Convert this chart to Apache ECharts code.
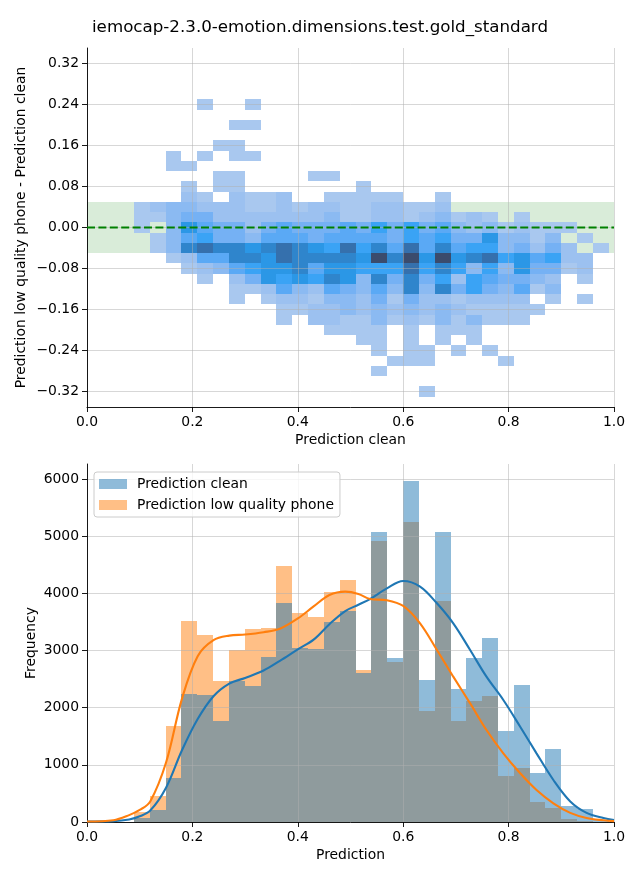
<!DOCTYPE html>
<html><head><meta charset="utf-8">
<script src="https://cdn.jsdelivr.net/npm/echarts@6/dist/echarts.min.js"></script>
<style>html,body{margin:0;padding:0;background:#fff}#c{width:640px;height:880px}</style>
</head><body><div id="c"></div>
<script>
// ---------- data ----------
const titleText = 'iemocap-2.3.0-emotion.dimensions.test.gold_standard';
const xBinStart = 0.0892;
const xBinWidth = 0.03003;
const yBinHeight = 0.02;
const bandRange = [-0.05, 0.05];
const zeroLineY = [0, 0];
const heatRowCenters = [0.24,0.22,0.20,0.18,0.16,0.14,0.12,0.10,0.08,0.06,0.04,0.02,0.00,-0.02,-0.04,-0.06,-0.08,-0.10,-0.12,-0.14,-0.16,-0.18,-0.20,-0.22,-0.24,-0.26,-0.28,-0.30,-0.32];
// count level per x bin (30 bins), 0 = empty
const heatRows = [
 [0,0,0,0,1,0,0,1,0,0, 0,0,0,0,0,0,0,0,0,0, 0,0,0,0,0,0,0,0,0,0],
 [0,0,0,0,0,0,0,0,0,0, 0,0,0,0,0,0,0,0,0,0, 0,0,0,0,0,0,0,0,0,0],
 [0,0,0,0,0,0,1,1,0,0, 0,0,0,0,0,0,0,0,0,0, 0,0,0,0,0,0,0,0,0,0],
 [0,0,0,0,0,0,0,0,0,0, 0,0,0,0,0,0,0,0,0,0, 0,0,0,0,0,0,0,0,0,0],
 [0,0,0,0,0,1,1,0,0,0, 0,0,0,0,0,0,0,0,0,0, 0,0,0,0,0,0,0,0,0,0],
 [0,0,1,0,1,0,1,1,0,0, 0,0,0,0,0,0,0,0,0,0, 0,0,0,0,0,0,0,0,0,0],
 [0,0,1,1,0,0,0,0,0,0, 0,0,0,0,0,0,0,0,0,0, 0,0,0,0,0,0,0,0,0,0],
 [0,0,0,0,0,1,1,0,0,0, 0,1,1,0,0,0,0,0,0,0, 0,0,0,0,0,0,0,0,0,0],
 [0,0,0,1,0,1,1,0,0,0, 0,0,0,0,1,0,0,0,0,0, 0,0,0,0,0,0,0,0,0,0],
 [0,0,0,2,1,0,2,1,1,2, 0,0,1,1,1,1,1,0,0,1, 0,0,0,0,0,0,0,0,0,0],
 [1,2,3,3,2,2,2,1,1,2, 1,2,2,1,1,2,2,1,1,2, 0,0,0,0,0,0,0,0,0,0],
 [1,1,3,4,4,2,2,2,2,2, 2,2,3,1,1,2,2,1,2,3, 1,2,1,0,1,0,0,0,0,0],
 [1,0,3,7,5,4,4,2,4,5, 4,4,4,5,4,6,4,6,4,5, 3,2,3,1,2,1,1,1,0,0],
 [0,1,3,5,6,4,4,3,5,5, 5,4,5,5,5,5,4,6,5,6, 4,4,7,3,3,1,3,0,1,0],
 [0,1,3,8,9,8,8,7,8,9, 8,7,6,9,6,8,5,9,5,8, 5,6,6,3,4,2,4,2,0,1],
 [0,0,1,2,5,5,8,8,7,9, 8,8,8,8,7,10,8,10,7,10, 7,8,9,6,7,5,6,2,2,0],
 [0,0,0,1,2,3,5,6,7,7, 8,5,7,7,6,6,6,9,6,8, 6,3,6,3,7,4,4,1,2,0],
 [0,0,0,0,1,0,2,4,7,6, 7,6,8,7,3,8,4,8,4,6, 2,6,5,4,4,3,2,0,1,0],
 [0,0,0,0,0,0,1,1,2,5, 3,2,5,4,3,5,3,8,3,8, 4,6,4,3,5,1,3,0,0,0],
 [0,0,0,0,0,0,1,0,1,2, 2,1,3,3,2,4,1,4,2,2, 1,2,2,2,2,0,1,0,1,0],
 [0,0,0,0,0,0,0,0,0,1, 1,2,2,3,2,3,2,3,2,3, 2,1,1,1,1,1,0,0,0,0],
 [0,0,0,0,0,0,0,0,0,1, 0,2,2,1,1,3,1,2,1,3, 1,3,1,1,1,0,0,0,0,0],
 [0,0,0,0,0,0,0,0,0,0, 0,0,1,1,1,1,0,1,0,1, 1,1,0,0,0,0,0,0,0,0],
 [0,0,0,0,0,0,0,0,0,0, 0,0,0,0,1,1,0,1,0,1, 0,1,0,0,0,0,0,0,0,0],
 [0,0,0,0,0,0,0,0,0,0, 0,0,0,0,0,1,0,1,1,0, 1,0,1,0,0,0,0,0,0,0],
 [0,0,0,0,0,0,0,0,0,0, 0,0,0,0,0,0,1,1,1,0, 0,0,0,1,0,0,0,0,0,0],
 [0,0,0,0,0,0,0,0,0,0, 0,0,0,0,0,1,0,0,0,0, 0,0,0,0,0,0,0,0,0,0],
 [0,0,0,0,0,0,0,0,0,0, 0,0,0,0,0,0,0,0,0,0, 0,0,0,0,0,0,0,0,0,0],
 [0,0,0,0,0,0,0,0,0,0, 0,0,0,0,0,0,0,0,1,0, 0,0,0,0,0,0,0,0,0,0]
];
const heatColors = ['#a9c8ef','#9cc1f0','#8bbaf2','#75b1f4','#5aa9f5','#3aa3f5','#2b97e6','#2f85cc','#3570ad','#3b4b6c'];

const histClean = [70,210,770,2240,2220,1767,2466,2380,2886,3837,3043,3026,3498,3691,2612,5073,2870,5965,2484,5073,2326,2869,3218,1592,2396,857,1277,280,227,30];
const histLow   = [170,455,1679,3516,3271,2466,3009,3376,3393,4478,3650,3592,4023,4233,2659,4921,2800,5248,1947,3866,1772,2122,2204,810,944,350,245,50,20,5];
const kdeX     = [0,0.05,0.08,0.10,0.12,0.15,0.18,0.21,0.24,0.27,0.30,0.335,0.366,0.40,0.43,0.46,0.49,0.515,0.537,0.569,0.60,0.632,0.664,0.695,0.727,0.758,0.79,0.822,0.853,0.885,0.917,0.948,0.98,1.0];
const kdeClean = [8,15,45,100,200,600,1250,1800,2200,2420,2520,2650,2820,3020,3190,3460,3690,3800,3900,4087,4215,4116,3825,3475,3009,2542,2134,1667,1201,735,360,160,70,35];
const kdeLow   = [8,30,120,210,360,1040,2150,2900,3180,3260,3280,3320,3380,3560,3770,3970,4030,3990,3900,3880,3780,3475,3009,2542,2076,1609,1201,852,560,327,160,70,30,15];
const diffTicks = [-0.32, 0.32, 0.08];   // min, max, step
const freqTicks = [0, 6000, 1000];
const diffLimits = [-0.35, 0.35];
const freqLimits = [0, 6262];
const xLimits = [0, 1];

// ---------- build ----------
const FONT = 'DejaVu Sans';
const gridCol = 'rgba(176,176,176,0.5)';
const fmtY = v => { const r = Math.round(v*100)/100; return (r < 0 ? '\u2212' : '') + Math.abs(r).toFixed(2); };
const fmtX = v => (Math.round(v*10)/10).toFixed(1);

const heatData = [];
heatRows.forEach((row, r) => row.forEach((lv, i) => {
  if (lv > 0) heatData.push([xBinStart + (i + 0.5) * xBinWidth, heatRowCenters[r], lv]);
}));
const barsClean = histClean.map((c, i) => [xBinStart + (i + 0.5) * xBinWidth, c]);
const barsLow = histLow.map((c, i) => [xBinStart + (i + 0.5) * xBinWidth, c]);

const topTop = 48, topH = 359, botTop = 464, botH = 358, L = 87, W = 527;
const pxPerDiff = topH / (diffLimits[1] - diffLimits[0]);
const pxPerFreq = botH / (freqLimits[1] - freqLimits[0]);

function rectItem(api, xa, ya, xb, yb, style) {
  const p0 = api.coord([xa, ya]), p1 = api.coord([xb, yb]);
  const x0 = Math.round(p0[0]), x1 = Math.round(p1[0]);
  const y0 = Math.round(Math.min(p0[1], p1[1])), y1 = Math.round(Math.max(p0[1], p1[1]));
  return { type: 'rect', shape: { x: x0, y: y0, width: x1 - x0, height: y1 - y0 }, style: style };
}

const axisLineBlack = { show: true, onZero: false, lineStyle: { color: '#000', width: 0.9 } };
const noLine = { show: false, onZero: false };
const tickOut = { show: true, length: 5, inside: false, lineStyle: { color: '#000', width: 0.9 } };
const lbl = (fmt) => ({ show: true, formatter: fmt, color: '#000', fontFamily: FONT, fontSize: 13.9, margin: 8 });
const nameStyle = { color: '#000', fontFamily: FONT, fontSize: 13.9 };

const option = {
  animation: false,
  backgroundColor: '#fff',
  title: { text: titleText, left: 'center', top: 19, padding: 0,
    textStyle: { fontFamily: FONT, fontSize: 16.7, fontWeight: 'normal', color: '#000' } },
  legend: {
    orient: 'vertical', left: 94, top: 472, padding: [5, 6, 5, 5], itemGap: 7,
    itemWidth: 28, itemHeight: 10, icon: 'rect',
    borderColor: '#cccccc', borderWidth: 1, borderRadius: 3, backgroundColor: 'rgba(255,255,255,0.8)',
    textStyle: { fontFamily: FONT, fontSize: 13.9, color: '#000', padding: [0, 0, 0, 5] },
    data: [
      { name: 'Prediction clean', itemStyle: { color: 'rgba(31,119,180,0.5)', opacity: 1 } },
      { name: 'Prediction low quality phone', itemStyle: { color: 'rgba(255,127,14,0.5)', opacity: 1 } }
    ]
  },
  visualMap: { show: false, type: 'continuous', seriesIndex: 1, dimension: 2, min: 1, max: heatColors.length,
    inRange: { color: heatColors } },
  grid: [
    { left: L, width: W, top: topTop, height: topH },
    { left: L, width: W, top: topTop + (diffLimits[1] - diffTicks[1]) * pxPerDiff, height: (diffTicks[1] - diffTicks[0]) * pxPerDiff },
    { left: L, width: W, top: botTop, height: botH },
    { left: L, width: W, top: botTop + (freqLimits[1] - freqTicks[1]) * pxPerFreq, height: (freqTicks[1] - freqTicks[0]) * pxPerFreq }
  ],
  xAxis: [
    { gridIndex: 0, type: 'value', min: xLimits[0], max: xLimits[1], interval: 0.2, z: 3,
      axisLine: axisLineBlack, axisTick: tickOut, axisLabel: lbl(fmtX),
      splitLine: { show: true, lineStyle: { color: gridCol, width: 1 } },
      name: 'Prediction clean', nameLocation: 'middle', nameGap: 26, nameTextStyle: nameStyle },
    { gridIndex: 1, type: 'value', min: xLimits[0], max: xLimits[1], show: false, axisLine: noLine },
    { gridIndex: 2, type: 'value', min: xLimits[0], max: xLimits[1], interval: 0.2, z: 3,
      axisLine: axisLineBlack, axisTick: tickOut, axisLabel: lbl(fmtX),
      splitLine: { show: true, lineStyle: { color: gridCol, width: 1 } },
      name: 'Prediction', nameLocation: 'middle', nameGap: 26, nameTextStyle: nameStyle },
    { gridIndex: 3, type: 'value', min: xLimits[0], max: xLimits[1], show: false, axisLine: noLine }
  ],
  yAxis: [
    { gridIndex: 0, type: 'value', min: diffLimits[0], max: diffLimits[1], z: 3,
      axisLine: axisLineBlack, axisTick: { show: false }, axisLabel: { show: false }, splitLine: { show: false },
      name: 'Prediction low quality phone - Prediction clean', nameLocation: 'middle', nameGap: 59, nameTextStyle: nameStyle },
    { gridIndex: 1, type: 'value', min: diffTicks[0], max: diffTicks[1], interval: diffTicks[2], z: 3,
      axisLine: noLine, axisTick: tickOut, axisLabel: lbl(fmtY),
      splitLine: { show: true, lineStyle: { color: gridCol, width: 1 } } },
    { gridIndex: 2, type: 'value', min: freqLimits[0], max: freqLimits[1], z: 3,
      axisLine: axisLineBlack, axisTick: { show: false }, axisLabel: { show: false }, splitLine: { show: false },
      name: 'Frequency', nameLocation: 'middle', nameGap: 49, nameTextStyle: nameStyle },
    { gridIndex: 3, type: 'value', min: freqTicks[0], max: freqTicks[1], interval: freqTicks[2], z: 3,
      axisLine: noLine, axisTick: tickOut, axisLabel: lbl(v => String(v)),
      splitLine: { show: true, lineStyle: { color: gridCol, width: 1 } } }
  ],
  series: [
    { type: 'custom', name: 'band', xAxisIndex: 0, yAxisIndex: 0, z: 1, silent: true,
      data: [[xLimits[0], bandRange[1], xLimits[1], bandRange[0]]],
      renderItem: (p, api) => rectItem(api, api.value(0), api.value(1), api.value(2), api.value(3),
        { fill: 'rgba(0,128,0,0.15)' }) },
    { type: 'custom', name: 'heat', xAxisIndex: 0, yAxisIndex: 0, z: 2, silent: true,
      data: heatData,
      renderItem: (p, api) => {
        const xc = api.value(0), yc = api.value(1);
        return rectItem(api, xc - xBinWidth / 2, yc + yBinHeight / 2, xc + xBinWidth / 2, yc - yBinHeight / 2,
          { fill: api.visual('color') });
      } },
    { type: 'line', name: 'zero', xAxisIndex: 0, yAxisIndex: 0, z: 6, silent: true, symbol: 'none',
      data: [[xLimits[0], zeroLineY[0]], [xLimits[1], zeroLineY[1]]],
      lineStyle: { color: '#008000', width: 2.2, type: [8, 3.4], opacity: 1 } },
    { type: 'custom', name: 'Prediction low quality phone', xAxisIndex: 2, yAxisIndex: 2, z: 2, silent: true,
      itemStyle: { color: '#ff7f0e', opacity: 0.5 },
      data: barsLow,
      renderItem: (p, api) => rectItem(api, api.value(0) - xBinWidth / 2, api.value(1), api.value(0) + xBinWidth / 2, 0,
        { fill: '#ff7f0e', opacity: 0.5 }) },
    { type: 'custom', name: 'Prediction clean', xAxisIndex: 2, yAxisIndex: 2, z: 2, silent: true,
      itemStyle: { color: '#1f77b4', opacity: 0.5 },
      data: barsClean,
      renderItem: (p, api) => rectItem(api, api.value(0) - xBinWidth / 2, api.value(1), api.value(0) + xBinWidth / 2, 0,
        { fill: '#1f77b4', opacity: 0.5 }) },
    { type: 'line', name: 'kde clean', xAxisIndex: 2, yAxisIndex: 2, z: 5, silent: true, symbol: 'none',
      smooth: 0.35,
      data: kdeX.map((x, i) => [x, kdeClean[i]]), lineStyle: { color: '#1f77b4', width: 2.1 } },
    { type: 'line', name: 'kde low', xAxisIndex: 2, yAxisIndex: 2, z: 5, silent: true, symbol: 'none',
      smooth: 0.35,
      data: kdeX.map((x, i) => [x, kdeLow[i]]), lineStyle: { color: '#ff7f0e', width: 2.1 } }
  ]
};
const chart = echarts.init(document.getElementById('c'), null, { renderer: 'canvas' });
chart.setOption(option);
</script>
</body></html>
